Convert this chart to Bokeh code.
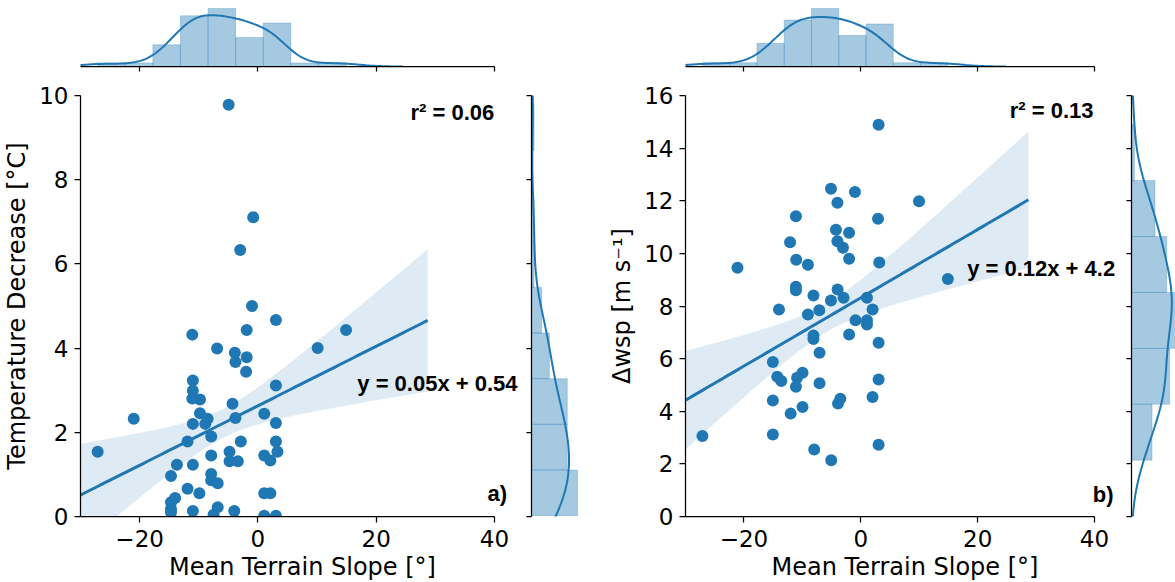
import numpy as np
from bokeh.plotting import figure
from bokeh.layouts import row, column
from bokeh.models import Range1d, FixedTicker, Label
from bokeh.embed import file_html
from bokeh.resources import INLINE

# ---------------- data ----------------
slope_a = [-4.95, -0.8, -3.0, -1.0, 3.04, -11.1, -6.9, -3.9, -3.8, -1.9, -1.9, -2.0, 3.04,
           -11.0, -11.0, -11.1, -9.8, -4.3, 1.07, -9.8, -3.8, -8.5, -11.0, -8.9, -21.0, 3.04,
           -7.9, -11.9, -2.9, 3.04, -27.1, -4.8, 3.3, -7.9, 1.07, 2.1, -4.8, -3.4, -13.7,
           -11.0, -14.7, -7.9, -7.9, -6.8, -11.9, -9.9, 1.07, 2.1, -14.0, -14.7, -14.7, -14.7,
           -11.0, -6.8, -7.5, -4.0, 1.07, 3.04, 14.9, 10.1]
temp_decrease = [9.78, 7.11, 6.33, 5.0, 4.67, 4.32, 3.99, 3.89, 3.67, 3.78, 4.43, 3.44, 3.11,
                 3.23, 2.99, 2.8, 2.78, 2.68, 2.44, 2.45, 2.34, 2.32, 2.2, 2.2, 2.32, 2.22,
                 1.9, 1.78, 1.78, 1.78, 1.54, 1.54, 1.54, 1.45, 1.45, 1.33, 1.31, 1.31, 1.23,
                 1.23, 0.96, 1.01, 0.86, 0.79, 0.66, 0.55, 0.55, 0.55, 0.44, 0.34, 0.18, 0.1,
                 0.13, 0.22, 0.04, 0.13, 0.02, 0.02, 4.43, 4.0]

slope_b = [-21.1, -11.1, -12.1, -11.05, -9.05, -11.1, -11.1, -8.1, -14.0, -5.1, -4.0, -1.0,
           3.05, 2.95, 9.97, -4.25, -2.0, -4.0, -3.05, -2.0, 3.17, -3.97, -5.1, -2.95, 1.06,
           2.02, -9.05, -7.1, -0.9, 1.06, -8.1, -8.1, -2.0, 1.06, 3.05, -7.06, -15.05, -14.3,
           -13.6, -9.97, -10.9, -11.1, -7.06, 3.05, -15.05, -12.0, -9.97, -3.9, -3.5, 2.02,
           -27.1, -15.05, -7.97, -5.06, 3.05, 14.9]
dwsp = [9.45, 11.41, 10.42, 9.76, 9.57, 8.73, 8.6, 8.4, 7.87, 12.46, 11.92, 12.33, 14.89,
        11.32, 11.98, 10.9, 10.78, 10.46, 10.21, 9.8, 9.65, 8.63, 8.21, 8.31, 8.31, 7.87,
        7.68, 7.84, 7.46, 7.46, 6.88, 6.75, 6.92, 7.3, 6.6, 6.22, 5.87, 5.31, 5.15, 5.46,
        5.27, 4.93, 5.06, 5.21, 4.41, 3.91, 4.16, 4.29, 4.48, 4.54, 3.06, 3.12, 2.55, 2.14,
        2.73, 9.03]

x_ticks = [-20, 0, 20, 40]
y_ticks_a = [0, 2, 4, 6, 8, 10]
y_ticks_b = [0, 2, 4, 6, 8, 10, 12, 14, 16]
bins_x, bins_y_a, bins_y_b = 9, 9, 6
r2_text_a, eq_text_a, tag_a = "r² = 0.06", "y = 0.05x + 0.54", "a)"
r2_text_b, eq_text_b, tag_b = "r² = 0.13", "y = 0.12x + 4.2", "b)"

# ---------------- style ----------------
BLUE = "#1f77b4"
TICK_FONT = "DejaVu Sans"
ANN_FONT = "Liberation Sans"
CRIT = 1.45
REG_XMAX = 28.7
XMIN, XMAX = -30, 40
GAP = 30  # px of free frame to the right of the x axis (room for the annotations)
TOP_HEADROOM = 66 / 58


def kde(a, cut=3, gridsize=200):
    a = np.asarray(a, float)
    bw = a.std(ddof=1) * len(a) ** (-1 / 5)
    g = np.linspace(a.min() - cut * bw, a.max() + cut * bw, gridsize)
    d = np.exp(-0.5 * ((g[:, None] - a[None, :]) / bw) ** 2).sum(1) / (len(a) * bw * np.sqrt(2 * np.pi))
    return g, d


def fit_band(x, y, xg):
    x = np.asarray(x, float); y = np.asarray(y, float)
    b, a0 = np.polyfit(x, y, 1)
    yh = a0 + b * xg
    res = y - (a0 + b * x)
    n = len(x)
    s = np.sqrt((res ** 2).sum() / (n - 2))
    xm = x.mean()
    sxx = ((x - xm) ** 2).sum()
    se = s * np.sqrt(1 / n + (xg - xm) ** 2 / sxx)
    return yh, yh - CRIT * se, yh + CRIT * se


def style_axis(ax, ticks, labels=True, label_standoff=6, title_standoff=5):
    ax.ticker = FixedTicker(ticks=ticks)
    ax.axis_line_color = "black"
    ax.axis_line_width = 1.25
    ax.major_tick_line_color = "black"
    ax.major_tick_line_width = 1.25
    ax.major_tick_in = 0
    ax.minor_tick_line_color = None
    if labels:
        ax.major_tick_out = 6
        ax.major_label_text_font = TICK_FONT
        ax.major_label_text_font_size = "23px"
        ax.major_label_text_color = "black"
        ax.major_label_standoff = label_standoff
        ax.axis_label_text_font = TICK_FONT
        ax.axis_label_text_font_size = "24px"
        ax.axis_label_text_font_style = "normal"
        ax.axis_label_text_color = "black"
        ax.axis_label_standoff = title_standoff
    else:
        ax.major_tick_out = 5
        ax.major_label_overrides = {t: "" for t in ticks}
        ax.major_label_text_font_size = "1px"
        ax.major_label_text_color = None
        ax.major_label_standoff = 0


def base(fig):
    fig.outline_line_color = None
    fig.background_fill_color = "white"
    fig.border_fill_color = "white"
    fig.grid.visible = False
    return fig


def panel(x, y, yticks, ylabel, nbx, nby, left, fw, rw, reach, texts, label_pos):
    x = np.asarray(x, float); y = np.asarray(y, float)
    x_end = XMIN + (XMAX - XMIN) * (fw + GAP) / fw
    xr = Range1d(XMIN, x_end)
    yr = Range1d(0, yticks[-1])

    # main scatter + regression
    p = base(figure(frame_width=fw + GAP, frame_height=421, min_border_left=left, min_border_right=0,
                    min_border_top=19, min_border_bottom=66, x_range=xr, y_range=yr,
                    output_backend="svg", toolbar_location=None))
    p.scatter(x, y, size=12, color=BLUE, line_color=None)
    xg = np.linspace(XMIN, REG_XMAX, 100)
    yh, lo, hi = fit_band(x, y, xg)
    p.varea(x=xg, y1=lo, y2=hi, fill_color=BLUE, fill_alpha=0.15)
    p.line(xg, yh, line_color=BLUE, line_width=3)
    p.xaxis.major_label_overrides = {-20: "\u221220"}
    p.xaxis.axis_label = "Mean Terrain Slope [°]"
    p.yaxis.axis_label = ylabel
    style_axis(p.xaxis, x_ticks, label_standoff=7, title_standoff=3)
    style_axis(p.yaxis, yticks, label_standoff=6, title_standoff=5)
    p.xaxis.bounds = (XMIN, XMAX)
    for txt, (lx, ly) in zip(texts, label_pos):
        p.add_layout(Label(x=lx, y=ly, text=txt, text_font=ANN_FONT, text_font_style="bold",
                           text_font_size="22px", text_color="black", text_baseline="alphabetic"))

    # top marginal
    hx, ex = np.histogram(x, bins=nbx, density=True)
    gx, dx = kde(x)
    peak = max(hx.max(), dx.max())
    t = base(figure(frame_width=fw + GAP, frame_height=66, min_border_left=left, min_border_right=0,
                    min_border_top=0, min_border_bottom=10, x_range=xr,
                    y_range=Range1d(0, peak * TOP_HEADROOM), y_axis_location=None,
                    output_backend="svg", toolbar_location=None))
    t.quad(left=ex[:-1], right=ex[1:], bottom=0, top=hx, fill_color=BLUE, fill_alpha=0.4,
           line_color=BLUE, line_alpha=0.25, line_width=1)
    t.line(gx, dx, line_color=BLUE, line_width=2)
    style_axis(t.xaxis, x_ticks, labels=False)
    t.xaxis.bounds = (XMIN, XMAX)

    # right marginal
    hy, ey = np.histogram(y, bins=nby, density=True)
    gy, dy = kde(y)
    peak_y = max(hy.max(), dy.max())
    r = base(figure(frame_width=rw, frame_height=421, min_border_left=7, min_border_right=0,
                    min_border_top=19, min_border_bottom=66, y_range=yr,
                    x_range=Range1d(0, peak_y * rw / reach), x_axis_location=None,
                    output_backend="svg", toolbar_location=None))
    r.quad(left=0, right=hy, bottom=ey[:-1], top=ey[1:], fill_color=BLUE, fill_alpha=0.4,
           line_color=BLUE, line_alpha=0.25, line_width=1)
    r.line(dy, gy, line_color=BLUE, line_width=2)
    style_axis(r.yaxis, yticks, labels=False)

    return column(t, row(p, r))


colA = panel(slope_a, temp_decrease, y_ticks_a, "Temperature Decrease [°C]", bins_x, bins_y_a,
             80, 414, 54, 46, [r2_text_a, eq_text_a, tag_a], [(25.8, 9.6), (16.8, 3.17), (38.8, 0.55)])
colB = panel(slope_b, dwsp, y_ticks_b, "\u0394wsp [m s\u207b\u00b9]", bins_x, bins_y_b,
             100, 409, 44, 44, [r2_text_b, eq_text_b, tag_b], [(25.5, 15.43), (18.2, 9.41), (39.7, 0.85)])

layout = row(colA, colB)
open("out.html", "w").write(file_html(layout, INLINE))
